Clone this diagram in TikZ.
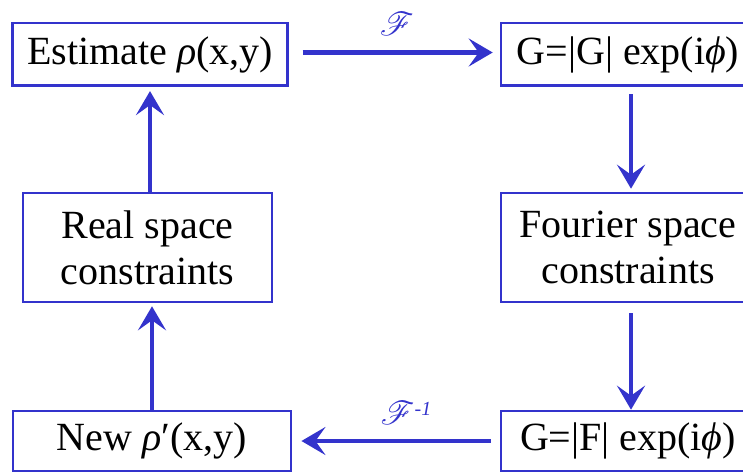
\documentclass[tikz,border=0pt]{standalone}
\usepackage{fontspec}
\setmainfont{Liberation Serif}
\usepackage{mathrsfs}
\usepackage{graphicx}
\usetikzlibrary{arrows.meta}
\definecolor{dblue}{RGB}{51,51,204}
\tikzset{
  box/.style={draw=dblue, line width=2.6pt, inner sep=0pt, align=center, font=\fontsize{40}{40}\selectfont},
  flow/.style={draw=dblue, line width=4.6pt, -{Stealth[length=24pt,width=28pt,inset=10pt]}},
  lab/.style={text=dblue, inner sep=0pt}
}
\begin{document}
\begin{tikzpicture}[x=1pt,y=-1pt]
\useasboundingbox (0,0) rectangle (743,473);
\clip (0,0) rectangle (743,473);
\node[box, minimum width=274.6pt, minimum height=62.6pt] (est) at (150,54.5) {Estimate \textit{ρ}(x,y)};
\node[box, minimum width=254pt, minimum height=62.6pt] (gtop) at (628,54.5) {G=|G| exp(i\textit{ϕ})};
\node[box, minimum width=249pt, minimum height=109pt, font=\fontsize{40}{46}\selectfont] (real) at (147.5,247.5) {Real space\\constraints};
\node[box, minimum width=254pt, minimum height=109pt, font=\fontsize{40}{46}\selectfont] (four) at (628,247.5) {Fourier space\\constraints};
\node[box, minimum width=278.3pt, minimum height=60pt] (new) at (152,441) {New \textit{ρ}′(x,y)};
\node[box, minimum width=254pt, minimum height=60pt] (gbot) at (628,441) {G=|F| exp(i\textit{ϕ})};
\draw[flow, shorten <=14pt, shorten >=7pt] (est.east |- 0,52.5) -- (gtop.west |- 0,52.5);
\draw[flow, shorten <=7pt, shorten >=3pt] ([xshift=3pt]gtop.south) -- ([xshift=3pt]four.north);
\draw[flow, shorten <=10pt, shorten >=0pt] ([xshift=3pt]four.south) -- ([xshift=3pt]gbot.north);
\draw[flow, shorten <=9pt, shorten >=9pt] (gbot.west) -- (new.east);
\draw[flow, shorten >=3pt] (new.north) -- (new.north |- real.south);
\draw[flow, shorten >=4pt] (real.north -| est.south) -- (est.south);
\node[lab] (f1) at (397,24) {\scalebox{3.3}{$\mathscr{F}$}};
\node[lab] (f2) at (406,413) {\scalebox{3.3}{$\mathscr{F}$}\raisebox{9pt}{\fontsize{20}{20}\selectfont\textit{-1}}};
\end{tikzpicture}
\end{document}
